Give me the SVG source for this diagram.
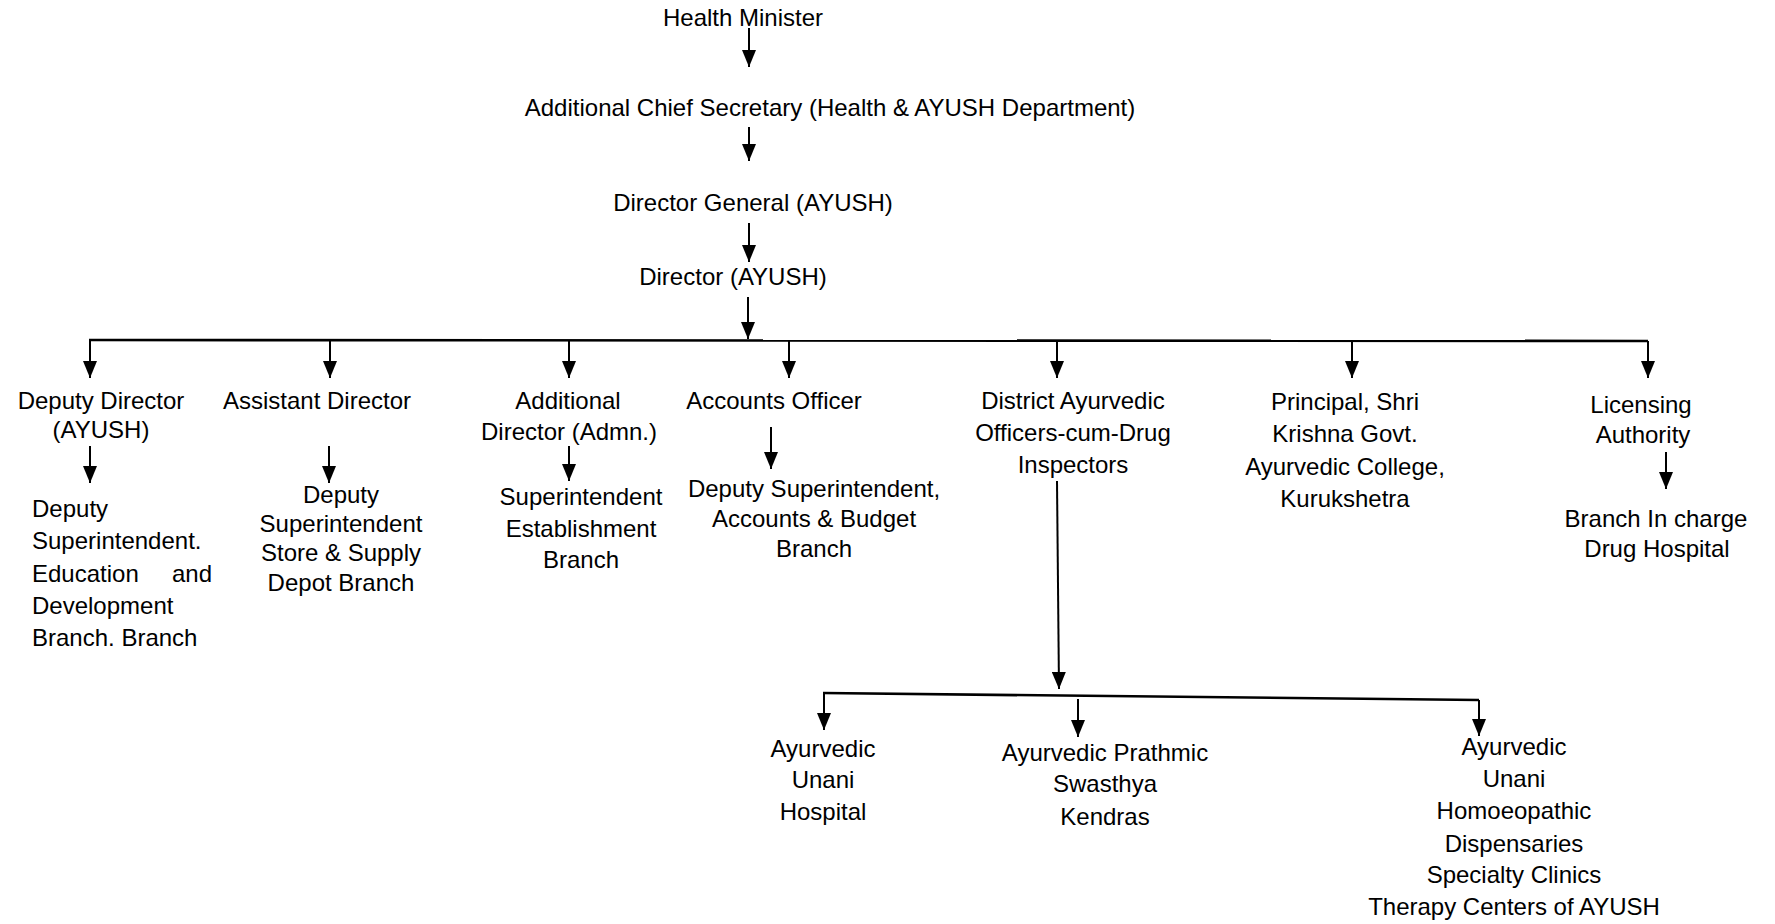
<svg xmlns="http://www.w3.org/2000/svg" width="1775" height="924" viewBox="0 0 1775 924">
<style>
text{font-family:"Liberation Sans",Arial,sans-serif;font-size:24px;fill:#000;text-anchor:middle}
.l{text-anchor:start}
.c line,.c path{stroke:#000;stroke-width:2;fill:none}
.c .bar{stroke-width:2.6}
</style>
<defs>
<marker id="ah" viewBox="0 0 17 14" refX="17" refY="7" markerWidth="17" markerHeight="14" markerUnits="userSpaceOnUse" orient="auto">
<path d="M0,0 L17,7 L0,14 z" fill="#000"/>
</marker>
</defs>
<rect width="1775" height="924" fill="#fff"/>
<g id="connectors" class="c">
<line x1="749" y1="28" x2="749" y2="67" marker-end="url(#ah)"/>
<line x1="749" y1="127" x2="749" y2="161" marker-end="url(#ah)"/>
<line x1="749" y1="223" x2="749" y2="262" marker-end="url(#ah)"/>
<line x1="748" y1="297" x2="748" y2="339" marker-end="url(#ah)"/>
<line class="bar" x1="89" y1="340" x2="1648" y2="341"/>
<line x1="90" y1="340" x2="90" y2="378" marker-end="url(#ah)"/>
<line x1="330" y1="340" x2="330" y2="378" marker-end="url(#ah)"/>
<line x1="569" y1="340" x2="569" y2="378" marker-end="url(#ah)"/>
<line x1="789" y1="340" x2="789" y2="378" marker-end="url(#ah)"/>
<line x1="1057" y1="340" x2="1057" y2="378" marker-end="url(#ah)"/>
<line x1="1352" y1="341" x2="1352" y2="378" marker-end="url(#ah)"/>
<line x1="1648" y1="341" x2="1648" y2="378" marker-end="url(#ah)"/>
<line x1="90" y1="446" x2="90" y2="483" marker-end="url(#ah)"/>
<line x1="329" y1="446" x2="329" y2="483" marker-end="url(#ah)"/>
<line x1="569" y1="446" x2="569" y2="481" marker-end="url(#ah)"/>
<line x1="771" y1="427" x2="771" y2="469" marker-end="url(#ah)"/>
<line x1="1666" y1="452" x2="1666" y2="489" marker-end="url(#ah)"/>
<line x1="1057" y1="481" x2="1059" y2="689" marker-end="url(#ah)"/>
<line class="bar" x1="823" y1="693" x2="1479" y2="700"/>
<line x1="824" y1="693" x2="824" y2="730" marker-end="url(#ah)"/>
<line x1="1078" y1="699" x2="1078" y2="737" marker-end="url(#ah)"/>
<line x1="1479" y1="700" x2="1479" y2="736" marker-end="url(#ah)"/>
</g>
<g id="health-minister"><text x="743" y="26">Health Minister</text></g>
<g id="acs"><text x="830" y="116">Additional Chief Secretary (Health &amp; AYUSH Department)</text></g>
<g id="dg"><text x="753" y="211">Director General (AYUSH)</text></g>
<g id="director"><text x="733" y="285">Director (AYUSH)</text></g>
<g id="deputy-director"><text x="101" y="409">Deputy Director</text><text x="101" y="438">(AYUSH)</text></g>
<g id="dy-supt-edu">
<text class="l" x="32" y="517">Deputy</text>
<text class="l" x="32" y="549">Superintendent.</text>
<text class="l" y="582"><tspan x="32">Education</tspan><tspan x="212" style="text-anchor:end">and</tspan></text>
<text class="l" x="32" y="614">Development</text>
<text class="l" x="32" y="646">Branch. Branch</text>
</g>
<g id="assistant-director"><text x="317" y="409">Assistant Director</text></g>
<g id="dy-supt-store">
<text x="341" y="503">Deputy</text>
<text x="341" y="532">Superintendent</text>
<text x="341" y="561">Store &amp; Supply</text>
<text x="341" y="591">Depot Branch</text>
</g>
<g id="additional-director"><text x="568" y="409">Additional</text><text x="569" y="440">Director (Admn.)</text></g>
<g id="supt-establishment">
<text x="581" y="505">Superintendent</text>
<text x="581" y="537">Establishment</text>
<text x="581" y="568">Branch</text>
</g>
<g id="accounts-officer"><text x="774" y="409">Accounts Officer</text></g>
<g id="dy-supt-accounts">
<text x="814" y="497">Deputy Superintendent,</text>
<text x="814" y="527">Accounts &amp; Budget</text>
<text x="814" y="557">Branch</text>
</g>
<g id="dao">
<text x="1073" y="409">District Ayurvedic</text>
<text x="1073" y="441">Officers-cum-Drug</text>
<text x="1073" y="473">Inspectors</text>
</g>
<g id="principal">
<text x="1345" y="410">Principal, Shri</text>
<text x="1345" y="442">Krishna Govt.</text>
<text x="1345" y="475">Ayurvedic College,</text>
<text x="1345" y="507">Kurukshetra</text>
</g>
<g id="licensing"><text x="1641" y="413">Licensing</text><text x="1643" y="443">Authority</text></g>
<g id="branch-incharge"><text x="1656" y="527">Branch In charge</text><text x="1657" y="557">Drug Hospital</text></g>
<g id="unani-hospital">
<text x="823" y="757">Ayurvedic</text>
<text x="823" y="788">Unani</text>
<text x="823" y="820">Hospital</text>
</g>
<g id="prathmic">
<text x="1105" y="761">Ayurvedic Prathmic</text>
<text x="1105" y="792">Swasthya</text>
<text x="1105" y="825">Kendras</text>
</g>
<g id="dispensaries">
<text x="1514" y="755">Ayurvedic</text>
<text x="1514" y="787">Unani</text>
<text x="1514" y="819">Homoeopathic</text>
<text x="1514" y="852">Dispensaries</text>
<text x="1514" y="883">Specialty Clinics</text>
<text x="1514" y="915">Therapy Centers of AYUSH</text>
</g>
</svg>
